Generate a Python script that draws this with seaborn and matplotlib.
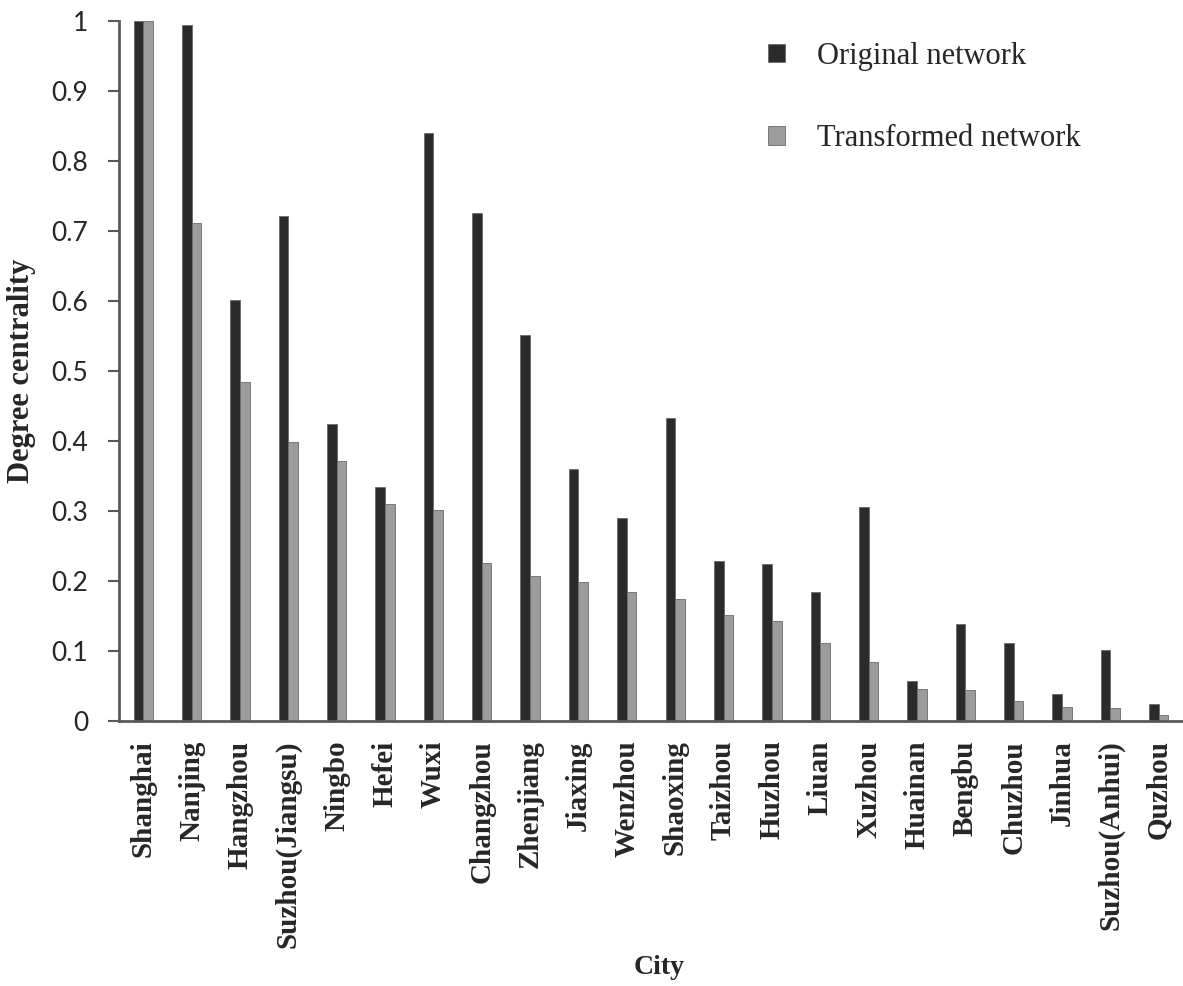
import matplotlib
matplotlib.use("Agg")
import matplotlib.pyplot as plt
import pandas as pd
import seaborn as sns

cities = [
    "Shanghai", "Nanjing", "Hangzhou", "Suzhou(Jiangsu)", "Ningbo", "Hefei",
    "Wuxi", "Changzhou", "Zhenjiang", "Jiaxing", "Wenzhou", "Shaoxing",
    "Taizhou", "Huzhou", "Liuan", "Xuzhou", "Huainan", "Bengbu", "Chuzhou",
    "Jinhua", "Suzhou(Anhui)", "Quzhou",
]
original = [
    1.000, 0.994, 0.602, 0.721, 0.425, 0.334, 0.840, 0.726, 0.551, 0.360, 0.290,
    0.433, 0.228, 0.224, 0.184, 0.306, 0.057, 0.138, 0.111, 0.039, 0.102, 0.025,
]
transformed = [
    1.000, 0.712, 0.484, 0.399, 0.372, 0.310, 0.301, 0.226, 0.207, 0.199, 0.185,
    0.174, 0.152, 0.143, 0.112, 0.085, 0.046, 0.044, 0.029, 0.020, 0.019, 0.009,
]
series_names = ["Original network", "Transformed network"]
y_ticks = [0, 0.1, 0.2, 0.3, 0.4, 0.5, 0.6, 0.7, 0.8, 0.9, 1.0]
y_tick_labels = ["0", "0.1", "0.2", "0.3", "0.4", "0.5", "0.6", "0.7", "0.8", "0.9", "1"]

df = pd.DataFrame({
    "City": cities * 2,
    "value": original + transformed,
    "network": [series_names[0]] * len(cities) + [series_names[1]] * len(cities),
})

sns.set_style("white")
plt.rcParams["font.family"] = ["Liberation Serif", "DejaVu Serif"]

fig = plt.figure(figsize=(11.83, 9.86), dpi=100)
ax = fig.add_axes([119 / 1183, 265 / 986, 1064 / 1183, 700 / 986])

sns.barplot(
    data=df, x="City", y="value", hue="network", order=cities,
    hue_order=series_names, palette=["#2b2b2b", "#9c9c9c"],
    width=0.4, ax=ax, saturation=1, edgecolor="#6a6a6a", linewidth=0.6,
)

ax.set_xlim(-0.5, len(cities) - 0.5)
ax.set_ylim(0, 1)
ax.set_yticks(y_ticks)
ax.set_yticklabels(y_tick_labels, fontfamily="Lato", fontsize=19)
ax.tick_params(axis="y", direction="out", length=8, width=1.5, color="#5a5a5a", pad=14, left=True)
ax.tick_params(axis="x", length=0, pad=14)
for label in ax.get_xticklabels():
    label.set_rotation(90)
    label.set_fontsize(21)
    label.set_fontweight("bold")
    label.set_va("top")

for side in ["top", "right"]:
    ax.spines[side].set_visible(False)
for side in ["left", "bottom"]:
    ax.spines[side].set_color("#5a5a5a")
    ax.spines[side].set_linewidth(2)

ax.set_ylabel("Degree centrality", fontsize=22, fontweight="bold")
ax.yaxis.set_label_coords(-0.078, 0.5)
ax.set_xlabel("City", fontsize=20, fontweight="bold")
ax.xaxis.set_label_coords(0.508, -0.334)

handles, labels = ax.get_legend_handles_labels()
ax.legend(
    handles, labels, loc="upper left", bbox_to_anchor=(768 / 1183, 1 - 42 / 986),
    bbox_transform=fig.transFigure, frameon=False, fontsize=22,
    handlelength=0.55, handleheight=0.55, handletextpad=1.05, labelspacing=1.75,
    borderpad=0, borderaxespad=0,
)

fig.savefig("out.png", dpi=100)
